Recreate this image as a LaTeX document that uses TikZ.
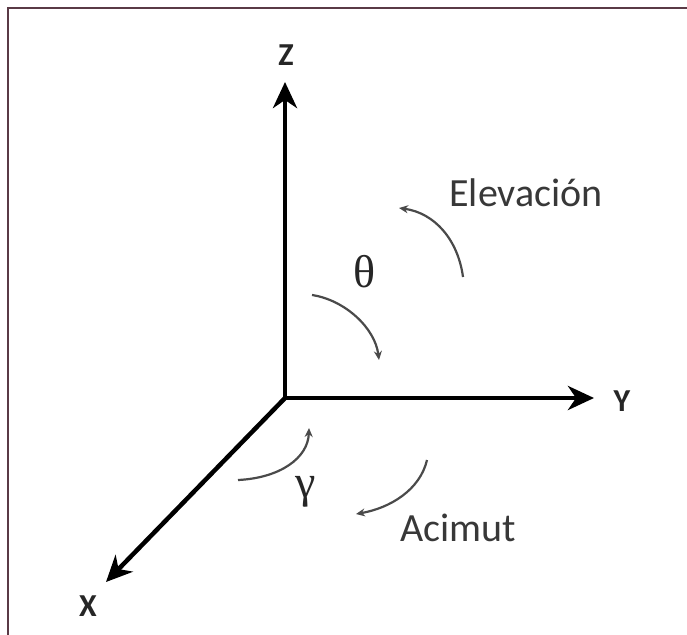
\documentclass[tikz,border=0pt]{standalone}
\usepackage{fontspec}
\setmainfont{Carlito}
\newfontfamily\grk{Liberation Serif}
\usetikzlibrary{arrows.meta}
\definecolor{frame}{HTML}{5A3A46}
\definecolor{arcgray}{HTML}{4A4A4A}
\tikzset{
  axis/.style={line width=4.5pt,-{Stealth[length=26pt,width=24pt,inset=8pt]}},
  rot/.style={arcgray,line width=2.2pt,-{Stealth[length=9pt,width=8pt]}},
  axlabel/.style={font=\fontsize{32}{32}\selectfont\bfseries,text=black!85},
  word/.style={font=\fontsize{40}{40}\selectfont,text=black!78},
  greek/.style={font=\fontsize{46}{46}\selectfont\grk,text=black!85}
}
\begin{document}
\begin{tikzpicture}[x=1pt,y=-1pt]
\useasboundingbox (0,0) rectangle (687,634);
\clip (0,0) rectangle (687,634);
\draw[frame,line width=2pt] (8,8) rectangle (720,660);
\coordinate (O) at (285,398);
\coordinate (Zt) at (285,82);
\coordinate (Yt) at (594,398);
\coordinate (Xt) at (106,582);
\draw[axis] (285,400.2) -- (Zt);
\draw[axis] (282.8,398) -- (Yt);
\draw[axis] (286.5,396.5) -- (Xt);
\node[axlabel] (Z) at (286,55) {Z};
\node[axlabel] (Y) at (622,401) {Y};
\node[axlabel] (X) at (88,606) {X};
\node[word] (elev) at (526,193) {Elevación};
\node[word] (acim) at (458,528) {Acimut};
\node[greek] (th) at (365,272) {θ};
\node[greek] (ga) at (306,492) {γ};
\coordinate (e1) at (463,277);
\coordinate (e2) at (399,208);
\draw[rot] (e1) .. controls (458,240) and (435,213) .. (e2);
\coordinate (t1) at (312,295);
\coordinate (t2) at (379,360);
\draw[rot] (t1) .. controls (345,300) and (375,328) .. (t2);
\coordinate (g1) at (238,480);
\coordinate (g2) at (309,428);
\draw[rot] (g1) .. controls (280,478) and (308,458) .. (g2);
\coordinate (a1) at (427,460);
\coordinate (a2) at (356,514);
\draw[rot] (a1) .. controls (420,490) and (390,508) .. (a2);
\end{tikzpicture}
\end{document}
